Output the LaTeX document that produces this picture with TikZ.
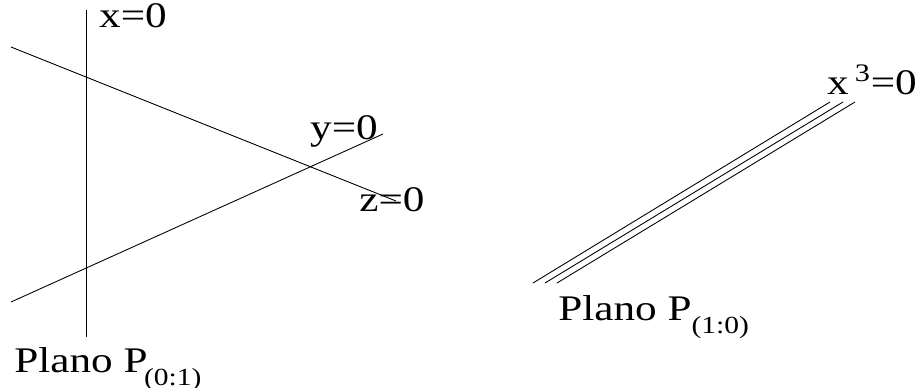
\documentclass[tikz,border=0pt]{standalone}
\usepackage{fontspec}
\setmainfont[FakeStretch=1.2]{Liberation Serif}
\usetikzlibrary{positioning}
\tikzset{
  recta/.style={thin, line width=0.5pt},
  etiq/.style={inner sep=0pt, anchor=base, font=\fontsize{20.5}{24}\selectfont},
  plano/.style={inner sep=0pt, anchor=base west, font=\fontsize{20.5}{24}\selectfont}
}
\newcommand{\sub}[1]{\raisebox{-0.8ex}{\fontsize{14}{16}\selectfont #1}}

\begin{document}
\begin{tikzpicture}[x=0.02cm, y=-0.02cm]
\useasboundingbox (0,0) rectangle (919,388);
% plano P(0:1)
\coordinate (xa) at (86,10);
\coordinate (xb) at (86,337);
\coordinate (za) at (11,47);
\coordinate (zb) at (396,201);
\coordinate (ya) at (11,302);
\coordinate (yb) at (383,134);
\draw[recta] (xa) -- (xb);
\draw[recta] (za) -- (zb);
\draw[recta] (ya) -- (yb);
\node[etiq] (lx) at (133,28) {x=0};
\node[etiq] (ly) at (344,140) {y=0};
\node[etiq] (lz) at (392,212) {z=0};
\node[plano] (p01) at (14,372) {Plano P\kern-2pt\sub{(0:1)}};

% plano P(1:0)
\foreach \i/\xl/\xr in {1/533/830, 2/545/843, 3/557/855}{
  \coordinate (t\i a) at (\xl,283);
  \coordinate (t\i b) at (\xr,102);
  \draw[recta] (t\i a) -- (t\i b);
}
\node[etiq] (lt) at (872,95) {x\,\textsuperscript{3}=0};
\node[plano] (p10) at (558,320) {Plano P\sub{(1:0)}};
\end{tikzpicture}
\end{document}
